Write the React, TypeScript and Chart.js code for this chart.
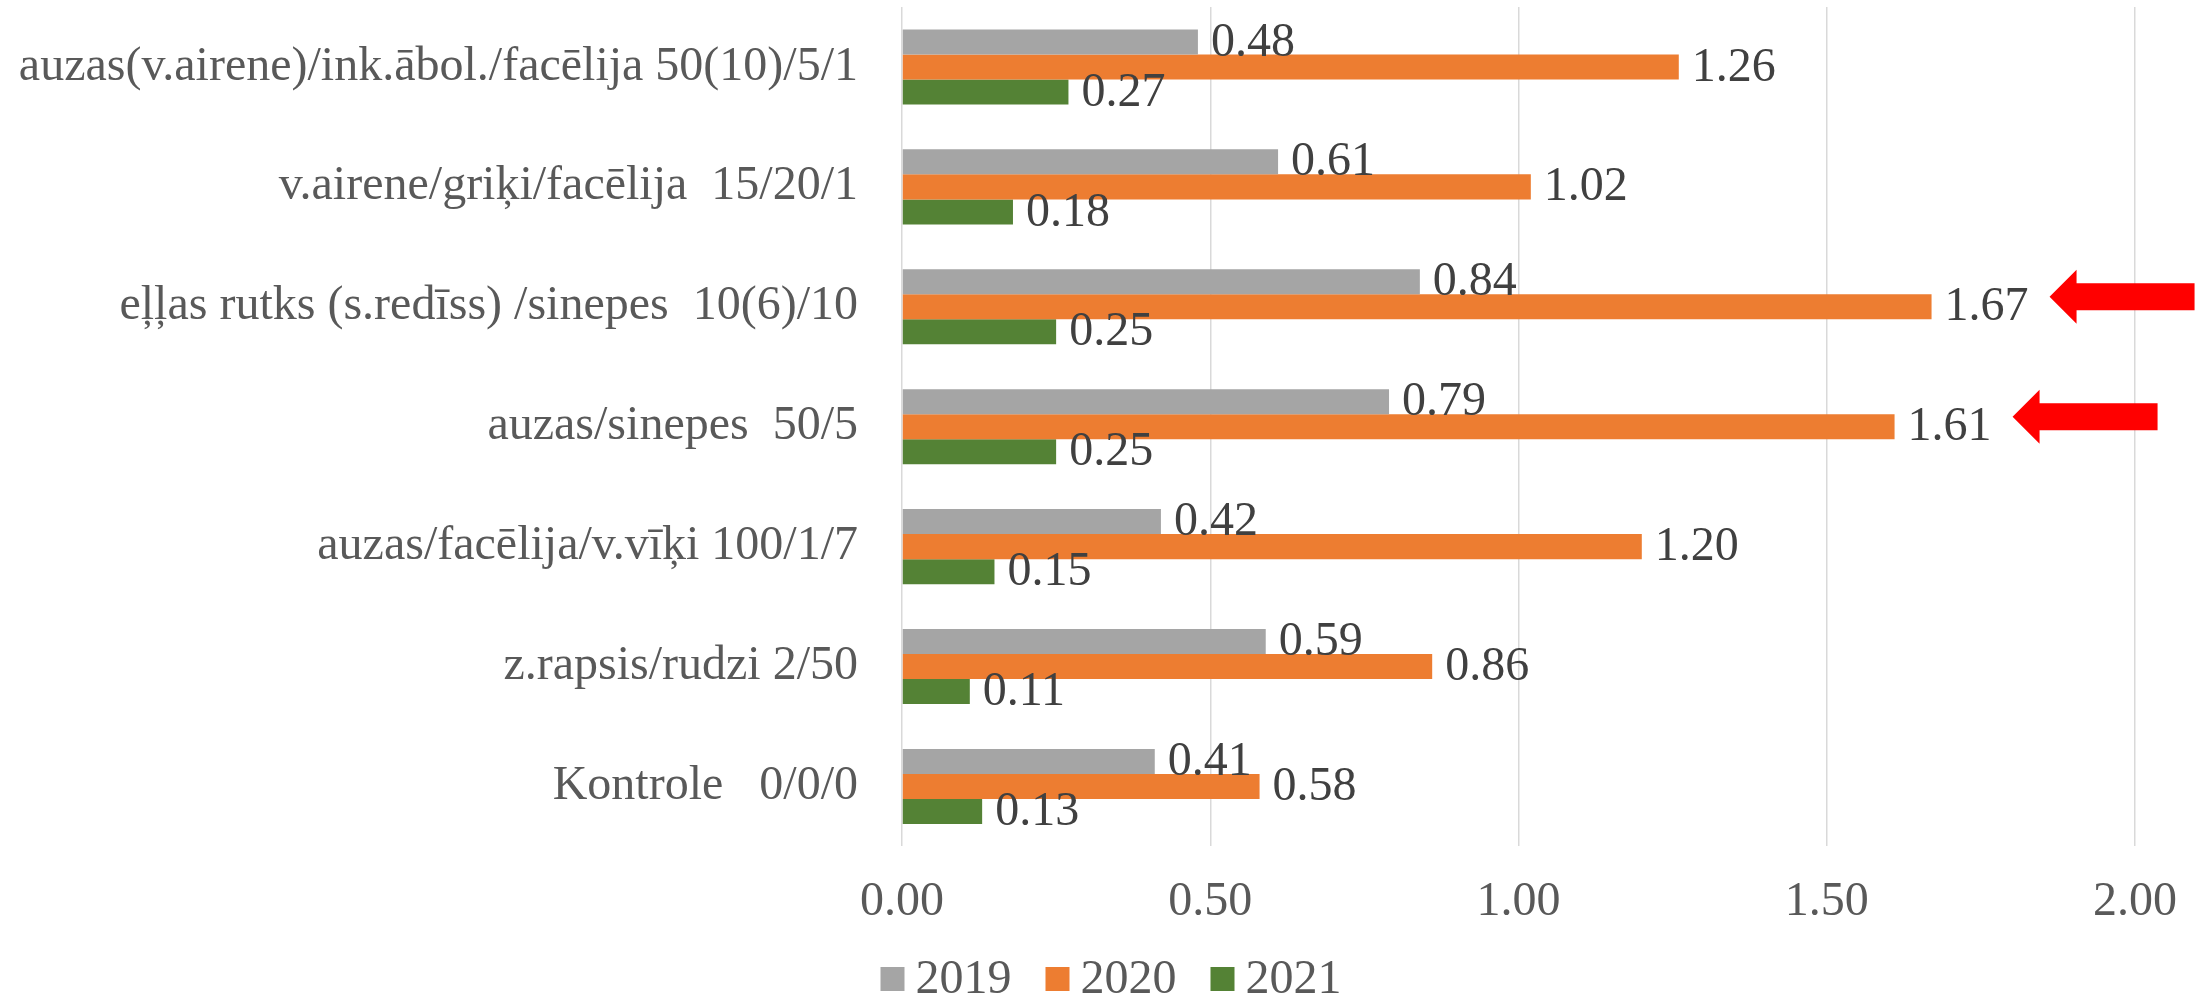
import React, { useEffect, useRef } from "react";
import { Chart, registerables } from "chart.js";

Chart.register(...registerables);

const categories = [
  "auzas(v.airene)/ink.ābol./facēlija 50(10)/5/1",
  "v.airene/griķi/facēlija  15/20/1",
  "eļļas rutks (s.redīss) /sinepes  10(6)/10",
  "auzas/sinepes  50/5",
  "auzas/facēlija/v.vīķi 100/1/7",
  "z.rapsis/rudzi 2/50",
  "Kontrole   0/0/0",
];
const seriesNames = ["2019", "2020", "2021"];
const values2019 = [0.48, 0.61, 0.84, 0.79, 0.42, 0.59, 0.41];
const values2020 = [1.26, 1.02, 1.67, 1.61, 1.2, 0.86, 0.58];
const values2021 = [0.27, 0.18, 0.25, 0.25, 0.15, 0.11, 0.13];
const seriesColors = ["#A5A5A5", "#ED7D31", "#548235"];
const xTicks = [0, 0.5, 1, 1.5, 2];
// categories highlighted by red arrows (on the 2020 series)
const arrowCategories = [2, 3];
const arrowSeries = 1;

const FONT = "'Liberation Serif', 'Times New Roman', serif";
const FS = 48;

const dataLabelPlugin = {
  id: "dataLabels",
  afterDatasetsDraw(chart: any) {
    const ctx = chart.ctx;
    ctx.save();
    ctx.font = `${FS}px ${FONT}`;
    ctx.fillStyle = "#404040";
    ctx.textAlign = "left";
    ctx.textBaseline = "middle";
    chart.data.datasets.forEach((ds: any, di: number) => {
      const meta = chart.getDatasetMeta(di);
      meta.data.forEach((bar: any, i: number) => {
        ctx.fillText(Number(ds.data[i]).toFixed(2), bar.x + 13, bar.y + 1);
      });
    });
    ctx.restore();
  },
};

const arrowPlugin = {
  id: "arrows",
  afterDraw(chart: any) {
    const ctx = chart.ctx;
    const meta = chart.getDatasetMeta(arrowSeries);
    ctx.save();
    ctx.fillStyle = "#FF0000";
    arrowCategories.forEach((ci) => {
      const bar: any = meta.data[ci];
      if (!bar) return;
      const tipX = bar.x + 118;
      const cy = bar.y - 10;
      const len = 145;
      const headLen = 27;
      const headHalf = 27;
      const shaftHalf = 13.5;
      ctx.beginPath();
      ctx.moveTo(tipX, cy);
      ctx.lineTo(tipX + headLen, cy - headHalf);
      ctx.lineTo(tipX + headLen, cy - shaftHalf);
      ctx.lineTo(tipX + len, cy - shaftHalf);
      ctx.lineTo(tipX + len, cy + shaftHalf);
      ctx.lineTo(tipX + headLen, cy + shaftHalf);
      ctx.lineTo(tipX + headLen, cy + headHalf);
      ctx.closePath();
      ctx.fill();
    });
    ctx.restore();
  },
};

// Legend drawn below the x axis, centred on the canvas
const legendPlugin = {
  id: "bottomLegend",
  afterDraw(chart: any) {
    const ctx = chart.ctx;
    ctx.save();
    ctx.font = `${FS}px ${FONT}`;
    ctx.textAlign = "left";
    ctx.textBaseline = "middle";
    const box = 24;
    const boxGap = 11;
    const itemGap = 34;
    const items = chart.data.datasets.map((ds: any) => ({
      text: ds.label,
      color: ds.backgroundColor,
      w: box + boxGap + ctx.measureText(ds.label).width,
    }));
    const total = items.reduce((s: number, it: any) => s + it.w, 0) + itemGap * (items.length - 1);
    let x = chart.width / 2 - total / 2 + 9;
    const cy = chart.height - 20;
    items.forEach((it: any) => {
      ctx.fillStyle = it.color;
      ctx.fillRect(x, cy - box / 2, box, box);
      ctx.fillStyle = "#595959";
      ctx.fillText(it.text, x + box + boxGap, cy + 1);
      x += it.w + itemGap;
    });
    ctx.restore();
  },
};

export default function App() {
  const canvasRef = useRef<HTMLCanvasElement | null>(null);

  useEffect(() => {
    document.body.style.margin = "0";
    const canvas = canvasRef.current;
    if (!canvas) return;
    const seriesValues = [values2019, values2020, values2021];
    const chart = new Chart(canvas, {
      type: "bar",
      data: {
        labels: categories,
        datasets: seriesNames.map((name, i) => ({
          label: name,
          data: seriesValues[i],
          backgroundColor: seriesColors[i],
          borderWidth: 0,
          barPercentage: 1,
          categoryPercentage: 0.626,
        })),
      },
      options: {
        indexAxis: "y",
        animation: false,
        responsive: true,
        maintainAspectRatio: false,
        layout: { padding: { top: 7, right: 66, bottom: 41, left: 0 } },
        plugins: {
          legend: { display: false },
          tooltip: { enabled: false },
        },
        scales: {
          x: {
            type: "linear",
            min: 0,
            max: 2,
            afterBuildTicks: (scale: any) => {
              scale.ticks = xTicks.map((v) => ({ value: v }));
            },
            ticks: {
              font: { family: FONT, size: FS },
              color: "#595959",
              padding: 27,
              callback: (v: any) => Number(v).toFixed(2),
            },
            grid: { color: "#D9D9D9", lineWidth: 1.5, drawTicks: false },
            border: { display: false },
          },
          y: {
            afterFit: (scale: any) => {
              scale.width = 902;
              scale.paddingTop = 0;
              scale.paddingBottom = 0;
            },
            ticks: {
              font: { family: FONT, size: FS },
              color: "#595959",
              padding: 44,
            },
            grid: { display: false, drawTicks: false },
            border: { display: false },
          },
        },
      },
      plugins: [dataLabelPlugin, arrowPlugin, legendPlugin],
    });
    return () => chart.destroy();
  }, []);

  return (
    <div style={{ position: "fixed", left: 0, top: 0, width: 2204, height: 999, background: "#fff" }}>
      <canvas ref={canvasRef} />
    </div>
  );
}
